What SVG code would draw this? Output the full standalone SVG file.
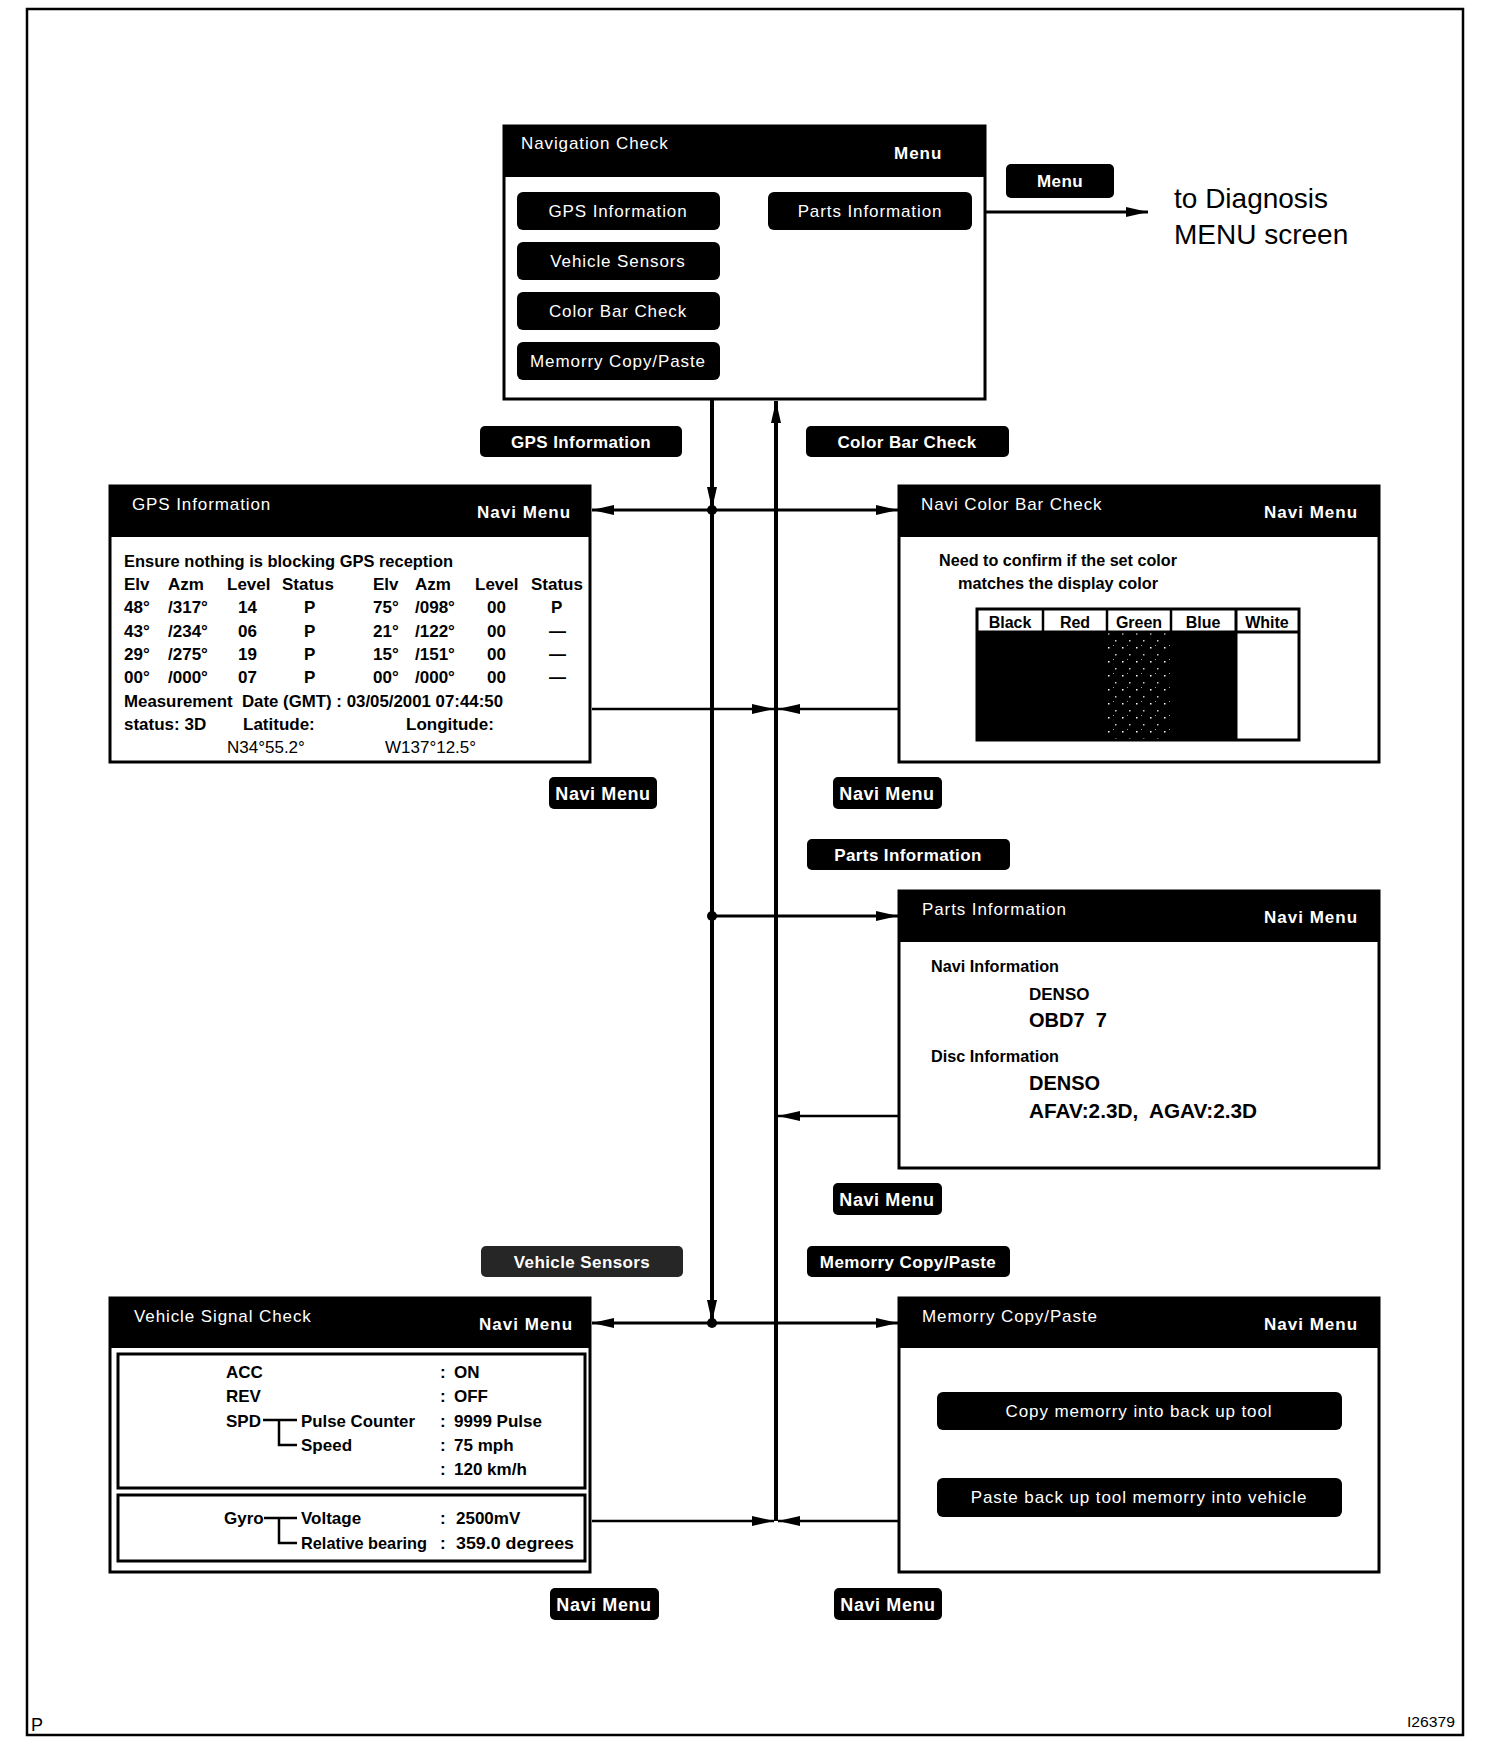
<svg xmlns="http://www.w3.org/2000/svg" width="1504" height="1754" viewBox="0 0 1504 1754">
<style>
.frame{fill:none;stroke:#000;stroke-width:2.5}
.box{fill:#fff;stroke:#000;stroke-width:3}
.hdr{fill:#000}
.btn{fill:#000}
.ht{font-family:"Liberation Sans",Arial,sans-serif;font-size:17px;fill:#fff;letter-spacing:0.9px}
.hm{font-family:"Liberation Sans",Arial,sans-serif;font-size:17px;font-weight:bold;fill:#fff;letter-spacing:1px}
.bt{font-family:"Liberation Sans",Arial,sans-serif;font-size:17px;fill:#fff;letter-spacing:0.9px;text-anchor:middle}
.lb{font-family:"Liberation Sans",Arial,sans-serif;font-size:17px;font-weight:bold;fill:#fff;letter-spacing:0.4px;text-anchor:middle}
.nm{font-family:"Liberation Sans",Arial,sans-serif;font-size:18px;font-weight:bold;fill:#fff;letter-spacing:0.6px;text-anchor:middle}
.b{font-family:"Liberation Sans",Arial,sans-serif;font-size:17px;font-weight:bold;fill:#000}
.b20{font-family:"Liberation Sans",Arial,sans-serif;font-size:20px;font-weight:bold;fill:#000}
.ct{font-family:"Liberation Sans",Arial,sans-serif;font-size:16px;font-weight:bold;fill:#000;text-anchor:middle}
.big{font-family:"Liberation Sans",Arial,sans-serif;font-size:28px;fill:#000}
.pre{white-space:pre}
.v{stroke:#000;stroke-width:4;fill:none}
.h{stroke:#000;stroke-width:3;fill:none}
.r{stroke:#000;stroke-width:2.5;fill:none}
.tree{stroke:#000;stroke-width:2.5;fill:none}
</style>
<defs>
<marker id="ah" markerUnits="userSpaceOnUse" markerWidth="24" markerHeight="10" refX="22" refY="5" orient="auto">
<path d="M0,0 L22,5 L0,10 Z" fill="#000"/>
</marker>
<pattern id="speckle" width="14" height="14" patternUnits="userSpaceOnUse">
<rect width="14" height="14" fill="#000"/>
<rect x="2" y="3" width="1.5" height="1.5" fill="#fff"/>
<rect x="9" y="10" width="1.5" height="1.5" fill="#ccc"/>
<rect x="7" y="1" width="1" height="1" fill="#999"/>
</pattern>
</defs>
<rect width="1504" height="1754" fill="#fff"/>
<rect class="frame" x="27" y="9" width="1436" height="1726"/>
<text x="31" y="1731" style="font-family:'Liberation Sans',Arial,sans-serif;font-size:18px">P</text>
<text x="1407" y="1727" textLength="48" lengthAdjust="spacingAndGlyphs" style="font-family:'Liberation Sans',Arial,sans-serif;font-size:14px">I26379</text>

<g id="connectors">
<line class="h" x1="985" y1="212" x2="1148" y2="212" marker-end="url(#ah)"/>
<line class="v" x1="712" y1="399" x2="712" y2="509" marker-end="url(#ah)"/>
<line class="v" x1="712" y1="510" x2="712" y2="1322" marker-end="url(#ah)"/>
<line class="v" x1="776" y1="1521" x2="776" y2="401" marker-end="url(#ah)"/>
<line class="h" x1="712" y1="510" x2="592" y2="510" marker-end="url(#ah)"/>
<line class="h" x1="712" y1="510" x2="898" y2="510" marker-end="url(#ah)"/>
<line class="r" x1="592" y1="709" x2="774" y2="709" marker-end="url(#ah)"/>
<line class="r" x1="898" y1="709" x2="778" y2="709" marker-end="url(#ah)"/>
<line class="h" x1="712" y1="916" x2="898" y2="916" marker-end="url(#ah)"/>
<line class="r" x1="898" y1="1116" x2="778" y2="1116" marker-end="url(#ah)"/>
<line class="h" x1="712" y1="1323" x2="592" y2="1323" marker-end="url(#ah)"/>
<line class="h" x1="712" y1="1323" x2="898" y2="1323" marker-end="url(#ah)"/>
<line class="r" x1="592" y1="1521" x2="774" y2="1521" marker-end="url(#ah)"/>
<line class="r" x1="898" y1="1521" x2="778" y2="1521" marker-end="url(#ah)"/>
<circle cx="712" cy="510" r="5" fill="#000"/>
<circle cx="712" cy="916" r="5" fill="#000"/>
<circle cx="712" cy="1323" r="5" fill="#000"/>
</g>

<g id="navigation-check">
<rect class="box" x="504" y="126" width="481" height="273"/>
<rect class="hdr" x="504" y="126" width="481" height="51"/>
<text class="ht" x="521" y="149">Navigation Check</text>
<text class="hm" x="894" y="159">Menu</text>
<rect class="btn" x="517" y="192" width="203" height="38" rx="6"/>
<text class="bt" x="618" y="217">GPS Information</text>
<rect class="btn" x="517" y="242" width="203" height="38" rx="6"/>
<text class="bt" x="618" y="267">Vehicle Sensors</text>
<rect class="btn" x="517" y="292" width="203" height="38" rx="6"/>
<text class="bt" x="618" y="317">Color Bar Check</text>
<rect class="btn" x="517" y="342" width="203" height="38" rx="6"/>
<text class="bt" x="618" y="367">Memorry Copy/Paste</text>
<rect class="btn" x="768" y="192" width="204" height="38" rx="6"/>
<text class="bt" x="870" y="217">Parts Information</text>
</g>

<g id="menu-button">
<rect class="btn" x="1006" y="164" width="108" height="34" rx="5"/>
<text class="lb" x="1060" y="187">Menu</text>
</g>
<g id="diagnosis-menu">
<text class="big" x="1174" y="208">to Diagnosis</text>
<text class="big" x="1174" y="244">MENU screen</text>
</g>

<g id="label-gps">
<rect class="btn" x="480" y="426" width="202" height="31" rx="5"/>
<text class="lb" x="581" y="448">GPS Information</text>
</g>
<g id="label-colorbar">
<rect class="btn" x="806" y="426" width="203" height="31" rx="5"/>
<text class="lb" x="907" y="448">Color Bar Check</text>
</g>

<g id="gps-information">
<rect class="box" x="110" y="486" width="480" height="276"/>
<rect class="hdr" x="110" y="486" width="480" height="51"/>
<text class="ht" x="132" y="510">GPS Information</text>
<text class="hm" x="477" y="518">Navi Menu</text>
<text class="b" x="124" y="567" textLength="329" lengthAdjust="spacingAndGlyphs">Ensure nothing is blocking GPS reception</text>
<text class="b" x="124" y="590">Elv</text><text class="b" x="168" y="590">Azm</text><text class="b" x="227" y="590">Level</text><text class="b" x="282" y="590">Status</text>
<text class="b" x="373" y="590">Elv</text><text class="b" x="415" y="590">Azm</text><text class="b" x="475" y="590">Level</text><text class="b" x="531" y="590">Status</text>
<text class="b" x="124" y="613">48°</text><text class="b" x="168" y="613">/317°</text><text class="b" x="238" y="613">14</text><text class="b" x="304" y="613">P</text>
<text class="b" x="373" y="613">75°</text><text class="b" x="415" y="613">/098°</text><text class="b" x="487" y="613">00</text><text class="b" x="551" y="613">P</text>
<text class="b" x="124" y="637">43°</text><text class="b" x="168" y="637">/234°</text><text class="b" x="238" y="637">06</text><text class="b" x="304" y="637">P</text>
<text class="b" x="373" y="637">21°</text><text class="b" x="415" y="637">/122°</text><text class="b" x="487" y="637">00</text><text class="b" x="549" y="637">—</text>
<text class="b" x="124" y="660">29°</text><text class="b" x="168" y="660">/275°</text><text class="b" x="238" y="660">19</text><text class="b" x="304" y="660">P</text>
<text class="b" x="373" y="660">15°</text><text class="b" x="415" y="660">/151°</text><text class="b" x="487" y="660">00</text><text class="b" x="549" y="660">—</text>
<text class="b" x="124" y="683">00°</text><text class="b" x="168" y="683">/000°</text><text class="b" x="238" y="683">07</text><text class="b" x="304" y="683">P</text>
<text class="b" x="373" y="683">00°</text><text class="b" x="415" y="683">/000°</text><text class="b" x="487" y="683">00</text><text class="b" x="549" y="683">—</text>
<text class="b pre" x="124" y="707" textLength="379" lengthAdjust="spacingAndGlyphs">Measurement  Date (GMT) : 03/05/2001 07:44:50</text>
<text class="b" x="124" y="730">status: 3D</text>
<text class="b" x="243" y="730">Latitude:</text>
<text class="b" x="406" y="730">Longitude:</text>
<text class="b" x="227" y="753" style="font-weight:normal">N34°55.2°</text>
<text class="b" x="385" y="753" style="font-weight:normal">W137°12.5°</text>
</g>

<g id="navi-color-bar-check">
<rect class="box" x="899" y="486" width="480" height="276"/>
<rect class="hdr" x="899" y="486" width="480" height="51"/>
<text class="ht" x="921" y="510">Navi Color Bar Check</text>
<text class="hm" x="1264" y="518">Navi Menu</text>
<text class="b" x="939" y="566" textLength="238" lengthAdjust="spacingAndGlyphs">Need to confirm if the set color</text>
<text class="b" x="958" y="589" textLength="200" lengthAdjust="spacingAndGlyphs">matches the display color</text>
<rect x="977" y="632" width="259" height="108" fill="#000"/>
<rect x="1108" y="632" width="62" height="108" fill="url(#speckle)"/>
<rect x="977" y="609" width="322" height="131" fill="none" stroke="#000" stroke-width="3"/>
<line x1="977" y1="632" x2="1299" y2="632" stroke="#000" stroke-width="3"/>
<line x1="1043" y1="609" x2="1043" y2="632" stroke="#000" stroke-width="2.5"/>
<line x1="1107" y1="609" x2="1107" y2="632" stroke="#000" stroke-width="2.5"/>
<line x1="1171" y1="609" x2="1171" y2="632" stroke="#000" stroke-width="2.5"/>
<line x1="1236" y1="609" x2="1236" y2="740" stroke="#000" stroke-width="3"/>
<text class="ct" x="1010" y="628">Black</text>
<text class="ct" x="1075" y="628">Red</text>
<text class="ct" x="1139" y="628">Green</text>
<text class="ct" x="1203" y="628">Blue</text>
<text class="ct" x="1267" y="628">White</text>
</g>

<g id="navi-menu-1">
<rect class="btn" x="549" y="777" width="108" height="32" rx="5"/>
<text class="nm" x="603" y="800">Navi Menu</text>
</g>
<g id="navi-menu-2">
<rect class="btn" x="833" y="777" width="109" height="32" rx="5"/>
<text class="nm" x="887" y="800">Navi Menu</text>
</g>
<g id="label-parts">
<rect class="btn" x="807" y="839" width="203" height="31" rx="5"/>
<text class="lb" x="908" y="861">Parts Information</text>
</g>

<g id="parts-information">
<rect class="box" x="899" y="891" width="480" height="277"/>
<rect class="hdr" x="899" y="891" width="480" height="51"/>
<text class="ht" x="922" y="915">Parts Information</text>
<text class="hm" x="1264" y="923">Navi Menu</text>
<text class="b" x="931" y="972" textLength="128" lengthAdjust="spacingAndGlyphs">Navi Information</text>
<text class="b" x="1029" y="1000">DENSO</text>
<text class="b20 pre" x="1029" y="1027">OBD7  7</text>
<text class="b" x="931" y="1062" textLength="128" lengthAdjust="spacingAndGlyphs">Disc Information</text>
<text class="b20" x="1029" y="1090">DENSO</text>
<text class="b20 pre" x="1029" y="1118" textLength="228" lengthAdjust="spacingAndGlyphs">AFAV:2.3D,  AGAV:2.3D</text>
</g>

<g id="navi-menu-3">
<rect class="btn" x="833" y="1183" width="109" height="32" rx="5"/>
<text class="nm" x="887" y="1206">Navi Menu</text>
</g>
<g id="label-vehicle">
<rect x="481" y="1246" width="202" height="31" rx="5" fill="#262626"/>
<text class="lb" x="582" y="1268">Vehicle Sensors</text>
</g>
<g id="label-memory">
<rect class="btn" x="807" y="1246" width="203" height="31" rx="5"/>
<text class="lb" x="908" y="1268">Memorry Copy/Paste</text>
</g>

<g id="vehicle-signal-check">
<rect class="box" x="110" y="1298" width="480" height="274"/>
<rect class="hdr" x="110" y="1298" width="480" height="50"/>
<text class="ht" x="134" y="1322">Vehicle Signal Check</text>
<text class="hm" x="479" y="1330">Navi Menu</text>
<rect class="box" x="118" y="1354" width="467" height="134"/>
<rect class="box" x="118" y="1495" width="467" height="66"/>
<text class="b" x="226" y="1378">ACC</text>
<text class="b" x="226" y="1402">REV</text>
<text class="b" x="226" y="1427">SPD</text>
<text class="b" x="301" y="1427" textLength="114" lengthAdjust="spacingAndGlyphs">Pulse Counter</text>
<text class="b" x="301" y="1451">Speed</text>
<text class="b" x="440" y="1378">:</text><text class="b" x="454" y="1378">ON</text>
<text class="b" x="440" y="1402">:</text><text class="b" x="454" y="1402">OFF</text>
<text class="b" x="440" y="1427">:</text><text class="b" x="454" y="1427" textLength="88" lengthAdjust="spacingAndGlyphs">9999 Pulse</text>
<text class="b" x="440" y="1451">:</text><text class="b" x="454" y="1451">75 mph</text>
<text class="b" x="440" y="1475">:</text><text class="b" x="454" y="1475">120 km/h</text>
<path class="tree" d="M263,1420 H297 M279,1420 V1445 H297"/>
<text class="b" x="224" y="1524">Gyro</text>
<text class="b" x="301" y="1524">Voltage</text>
<text class="b" x="301" y="1549" textLength="126" lengthAdjust="spacingAndGlyphs">Relative bearing</text>
<text class="b" x="440" y="1524">:</text><text class="b" x="456" y="1524">2500mV</text>
<text class="b" x="440" y="1549">:</text><text class="b" x="456" y="1549" textLength="118" lengthAdjust="spacingAndGlyphs">359.0 degrees</text>
<path class="tree" d="M264,1518 H297 M279,1518 V1543 H297"/>
</g>

<g id="memory-copy-paste">
<rect class="box" x="899" y="1298" width="480" height="274"/>
<rect class="hdr" x="899" y="1298" width="480" height="50"/>
<text class="ht" x="922" y="1322">Memorry Copy/Paste</text>
<text class="hm" x="1264" y="1330">Navi Menu</text>
<rect class="btn" x="937" y="1392" width="405" height="38" rx="6"/>
<text class="bt" x="1139" y="1417">Copy memorry into back up tool</text>
<rect class="btn" x="937" y="1478" width="405" height="39" rx="6"/>
<text class="bt" x="1139" y="1503">Paste back up tool memorry into vehicle</text>
</g>

<g id="navi-menu-4">
<rect class="btn" x="550" y="1588" width="109" height="32" rx="5"/>
<text class="nm" x="604" y="1611">Navi Menu</text>
</g>
<g id="navi-menu-5">
<rect class="btn" x="834" y="1588" width="108" height="32" rx="5"/>
<text class="nm" x="888" y="1611">Navi Menu</text>
</g>
</svg>
